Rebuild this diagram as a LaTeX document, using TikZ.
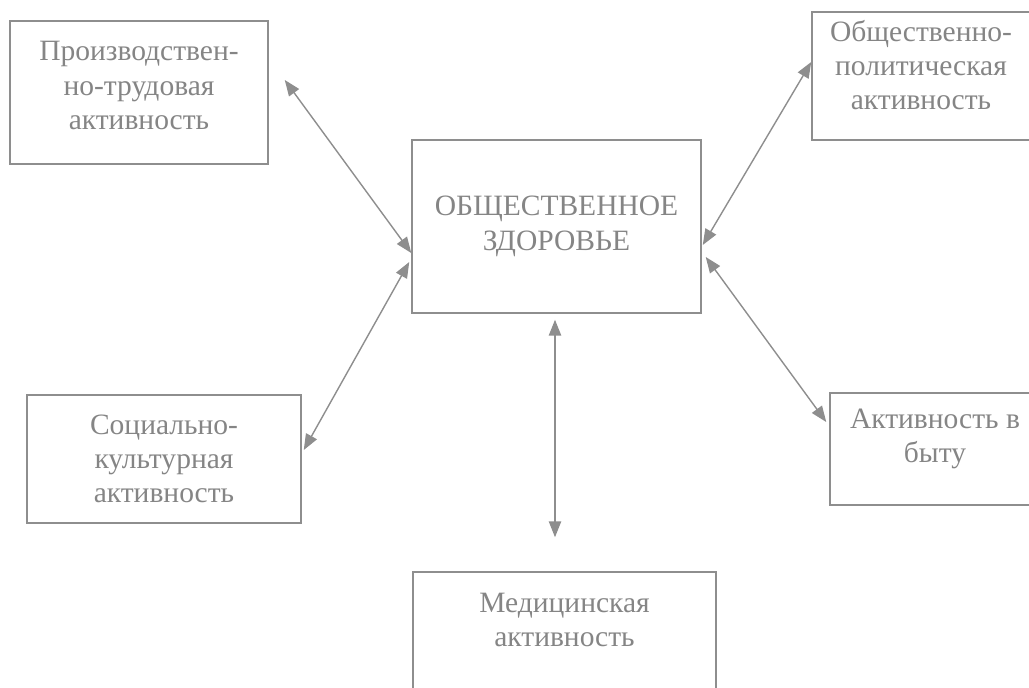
\documentclass[tikz,border=0pt]{standalone}
\usepackage{fontspec}
\setmainfont{Liberation Serif}
\usetikzlibrary{arrows.meta,calc}
\definecolor{boxgray}{HTML}{8E8E8E}
\definecolor{txtgray}{HTML}{858585}
\begin{document}
\begin{tikzpicture}[x=0.02cm,y=-0.02cm,
    block/.style={draw=boxgray, line width=0.9pt, text=txtgray, align=center,
        font=\fontsize{16.8}{19.5}\selectfont, inner sep=0pt},
    link/.style={draw=boxgray, line width=0.8pt,
        {Triangle[length=9pt,width=7pt]}-{Triangle[length=9pt,width=7pt]}}]
    % Frame
    \useasboundingbox (0,0) rectangle (1029,688);
    \clip (0,0) rectangle (1029,688);
    % Blocks
    \node[block, minimum width=5.16cm, minimum height=2.86cm, text depth=0.28cm] (proizv) at (139,92.5) {Производствен-\\но-трудовая\\активность};
    \node[block, minimum width=5.78cm, minimum height=3.46cm] (obsh) at (556.5,226.5) {ОБЩЕСТВЕННОЕ\\ЗДОРОВЬЕ};
    \node[block, minimum width=4.36cm, minimum height=2.56cm, text depth=0.44cm] (polit) at (921,76) {Общественно-\\политическая\\активность};
    \node[block, minimum width=5.48cm, minimum height=2.56cm] (sots) at (164,459) {Социально-\\культурная\\активность};
    \node[block, minimum width=4.2cm, minimum height=2.24cm, text depth=0.52cm] (byt) at (935,449) {Активность в\\быту};
    \node[block, minimum width=6.06cm, minimum height=2.56cm, text depth=0.64cm] (med) at (564.5,636) {Медицинская\\активность};
    % Arrows
    \draw[link] ($(proizv.east)+(16,-12.5)$) -- ($(obsh.west)+(0,26.5)$);
    \draw[link] ($(sots.east)+(2,-9)$) -- ($(obsh.west)+(-2,35.5)$);
    \draw[link] ($(obsh.east)+(1,18.5)$) -- ($(polit.west)+(0,-14)$);
    \draw[link] ($(obsh.east)+(4,30.5)$) -- ($(byt.west)+(-3,-27)$);
    \draw[link] ($(obsh.south)+(-1.5,6)$) -- ($(med.north)+(-9.5,-34)$);
\end{tikzpicture}
\end{document}
